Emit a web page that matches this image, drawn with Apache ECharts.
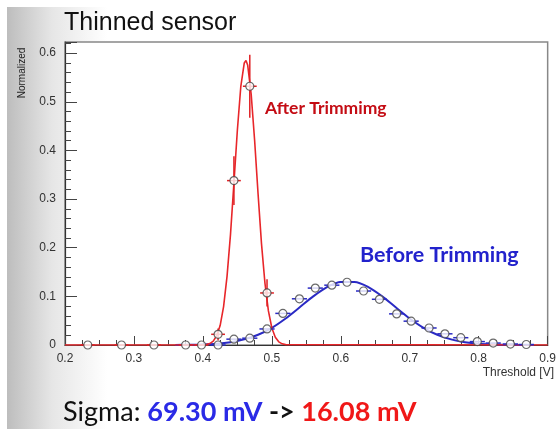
<!DOCTYPE html>
<html>
<head>
<meta charset="utf-8">
<script src="https://cdn.jsdelivr.net/npm/echarts@6/dist/echarts.min.js"></script>
<style>
  html, body { margin: 0; padding: 0; background: #fff; }
  #chart { width: 559px; height: 429px; }
</style>
</head>
<body>
<div id="chart"></div>
<script>
// fitted curve, after trimming (threshold V -> normalized)
const redCurveX = [0.2, 0.4, 0.405, 0.41, 0.415, 0.42, 0.425, 0.43, 0.435, 0.44, 0.445, 0.45, 0.455, 0.46, 0.4625,
  0.465, 0.47, 0.475, 0.48, 0.485, 0.49, 0.495, 0.5, 0.505, 0.51, 0.515, 0.52, 0.9]
const redCurveY = [0, 0.0003, 0.001, 0.003, 0.008, 0.019, 0.04, 0.079, 0.141, 0.227, 0.333, 0.442, 0.532, 0.58, 0.585,
  0.575, 0.516, 0.421, 0.311, 0.208, 0.127, 0.07, 0.035, 0.016, 0.0065, 0.0024, 0.0008, 0]

// fitted curve, before trimming
const blueCurveX = [0.36, 0.38, 0.4, 0.42, 0.44, 0.46, 0.48, 0.5, 0.52, 0.54, 0.56, 0.58, 0.6, 0.62, 0.64,
  0.66, 0.68, 0.7, 0.72, 0.74, 0.76, 0.78, 0.8, 0.82, 0.84, 0.86, 0.88]
const blueCurveY = [0.0002, 0.0004, 0.0011, 0.0026, 0.0058, 0.0115, 0.0211, 0.0354, 0.0546, 0.0771, 0.1, 0.119, 0.1296, 0.1296, 0.119,
  0.1, 0.0771, 0.0546, 0.0354, 0.0211, 0.0115, 0.0058, 0.0026, 0.0011, 0.0004, 0.0002, 0.0001]

// measured points
const redPtX = [0.233, 0.282, 0.329, 0.375, 0.398, 0.422, 0.445, 0.468, 0.493]
const redPtY = [0, 0, 0, 0, 0, 0.022, 0.338, 0.532, 0.107]
const redErrY = [0, 0, 0, 0, 0, 0.012, 0.05, 0.065, 0.028]
const redErrX = [0.01, 0.01, 0.01, 0.01, 0.01, 0.01, 0.01, 0.01, 0.01]

const bluePtX = [0.422, 0.445, 0.468, 0.493, 0.516, 0.54, 0.563, 0.587, 0.609, 0.633, 0.656, 0.681, 0.702,
  0.728, 0.751, 0.774, 0.798, 0.821, 0.846, 0.869]
const bluePtY = [0, 0.012, 0.014, 0.033, 0.065, 0.095, 0.117, 0.123, 0.129, 0.111, 0.094, 0.064, 0.049,
  0.035, 0.023, 0.015, 0.007, 0.004, 0.002, 0.001]
const blueErrX = 0.011

const titleText = 'Thinned sensor'
const afterLabel = 'After Trimmimg'
const beforeLabel = 'Before Trimming'
const sigmaBefore = '69.30 mV'
const sigmaAfter = '16.08 mV'

const zip = (xs, ys) => xs.map((x, i) => [x, ys[i]])

// error bar drawing
const errBars = (color) => (params, api) => {
  const x = api.value(0), y = api.value(1), ey = api.value(2), ex = api.value(3)
  const l = api.coord([x - ex, y]), r = api.coord([x + ex, y])
  const t = api.coord([x, y + ey]), b = api.coord([x, y - ey])
  const style = { stroke: color, lineWidth: 1.5 }
  return {
    type: 'group',
    children: [
      { type: 'line', shape: { x1: l[0], y1: l[1], x2: r[0], y2: r[1] }, style },
      { type: 'line', shape: { x1: t[0], y1: t[1], x2: b[0], y2: b[1] }, style }
    ]
  }
}

const chart = echarts.init(document.getElementById('chart'))
chart.setOption({
  animation: false,
  title: [
    {
      text: titleText, left: 59, top: 6,
      textStyle: { fontFamily: 'Liberation Sans', fontSize: 25, fontWeight: 'normal', color: '#111' }
    },
    {
      text: '{k|Sigma: }{b|' + sigmaBefore + '}{a| -> }{r|' + sigmaAfter + '}',
      left: 58, top: 394,
      textStyle: {
        fontWeight: 'normal',
        rich: {
          k: { fontFamily: 'Lato', fontSize: 27, fontWeight: 'normal', color: '#111' },
          a: { fontFamily: 'Lato', fontSize: 27, fontWeight: 'bold', color: '#111' },
          b: { fontFamily: 'Lato', fontSize: 27, fontWeight: 'bold', color: '#2a2ae6' },
          r: { fontFamily: 'Lato', fontSize: 27, fontWeight: 'bold', color: '#f01818' }
        }
      }
    }
  ],
  graphic: [
    {
      type: 'rect', left: 7, top: 7, z: -10,
      shape: { width: 100, height: 422 },
      style: {
        fill: new echarts.graphic.LinearGradient(0, 0, 1, 0, [
          { offset: 0, color: '#bdbdbd' },
          { offset: 0.45, color: '#e6e6e6' },
          { offset: 1, color: '#ffffff' }
        ])
      }
    },
    {
      type: 'text', left: 265, top: 99,
      style: { text: afterLabel, font: 'bold 17.5px Lato', fill: '#c40c14' }
    },
    {
      type: 'text', left: 360, top: 244,
      style: { text: beforeLabel, font: 'bold 21.5px Lato', fill: '#2222cc' }
    },
    {
      type: 'text', x: 22, y: 73, rotation: Math.PI / 2,
      style: { text: 'Normalized', font: '10px "Liberation Sans"', fill: '#222', align: 'center', verticalAlign: 'middle' }
    },
    {
      type: 'text', right: 5, top: 367,
      style: { text: 'Threshold [V]', font: '12px "Liberation Sans"', fill: '#333' }
    }
  ],
  grid: {
    left: 65, right: 4, top: 42, bottom: 84,
    show: true, backgroundColor: '#fff', borderColor: '#888', borderWidth: 1.5
  },
  xAxis: {
    type: 'value', min: 0.2, max: 0.9, interval: 0.1,
    axisLine: { lineStyle: { color: '#333', width: 1.2 } },
    axisTick: { inside: true, length: 9, lineStyle: { color: '#444' } },
    minorTick: { show: true, splitNumber: 4, length: 5, lineStyle: { color: '#444' } },
    splitLine: { show: false },
    axisLabel: { fontFamily: 'Liberation Sans', fontSize: 12, color: '#333', margin: 8 }
  },
  yAxis: {
    type: 'value', min: 0, max: 0.623, interval: 0.1,
    axisLine: { show: true, lineStyle: { color: '#333', width: 1.2 } },
    axisTick: { inside: true, length: 12, lineStyle: { color: '#444' } },
    minorTick: { show: true, splitNumber: 5, length: 6, lineStyle: { color: '#444' } },
    splitLine: { show: false },
    axisLabel: { fontFamily: 'Liberation Sans', fontSize: 12, color: '#333', margin: 9, showMaxLabel: false }
  },
  series: [
    {
      type: 'line', data: zip(blueCurveX, blueCurveY), smooth: 0.3, symbol: 'none',
      lineStyle: { color: '#2a2ac4', width: 2 }, z: 2
    },
    {
      type: 'line', data: zip(redCurveX, redCurveY), symbol: 'none',
      lineStyle: { color: '#e8262a', width: 1.6 }, z: 3
    },
    {
      type: 'custom', renderItem: errBars('#2a2ac4'), z: 4,
      encode: { x: 0, y: 1 },
      data: bluePtX.map((x, i) => [x, bluePtY[i], 0, blueErrX])
    },
    {
      type: 'custom', renderItem: errBars('#e02024'), z: 4,
      encode: { x: 0, y: 1 },
      data: redPtX.map((x, i) => [x, redPtY[i], redErrY[i], redErrX[i]])
    },
    {
      type: 'scatter', data: zip(bluePtX, bluePtY), symbol: 'circle', symbolSize: 8, z: 5,
      itemStyle: { color: '#fff', borderColor: '#444', borderWidth: 1.2 }
    },
    {
      type: 'scatter', data: zip(redPtX, redPtY), symbol: 'circle', symbolSize: 8, z: 5,
      itemStyle: { color: '#fff', borderColor: '#444', borderWidth: 1.2 }
    }
  ]
})
</script>
</body>
</html>
